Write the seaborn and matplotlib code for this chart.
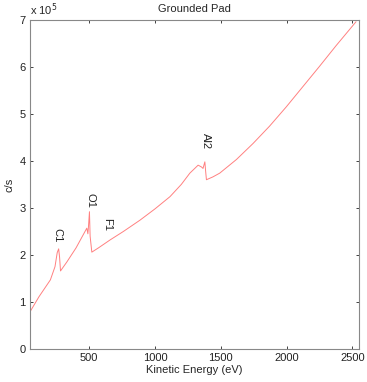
import numpy as np
import pandas as pd
import matplotlib
matplotlib.use("Agg")
import matplotlib.pyplot as plt
import seaborn as sns

energy = [50, 118, 205, 240, 257, 268, 275, 282, 330, 400, 482, 490, 495, 502,
          507, 520, 570, 659, 760, 886, 1000, 1114, 1200, 1265, 1328, 1354,
          1365, 1379, 1386, 1391, 1440, 1492, 1619, 1745, 1871, 1998, 2124,
          2250, 2376, 2528]
counts = [0.79, 1.11, 1.47, 1.75, 2.05, 2.13, 1.95, 1.66, 1.85, 2.15, 2.57, 2.45,
          2.62, 2.92, 2.40, 2.06, 2.15, 2.32, 2.50, 2.74, 2.98, 3.24, 3.50,
          3.74, 3.91, 3.87, 3.84, 3.98, 3.75, 3.60, 3.66, 3.74, 4.03, 4.37,
          4.74, 5.15, 5.58, 6.01, 6.45, 6.96]

peak_names = ["C1", "O1", "F1", "Al2"]
peak_x = [258, 508, 637, 1384]
peak_y = [2.43, 3.17, 2.64, 4.43]

df = pd.DataFrame({"E": energy, "cps": np.array(counts) * 1e5})

sns.set_style("ticks")
plt.rcParams['font.family'] = ['Liberation Sans', 'DejaVu Sans']
plt.rcParams['font.size'] = 8

fig = plt.figure(figsize=(3.67, 3.82), dpi=100)
ax = fig.add_axes([0.0817, 0.0864, 0.8963, 0.8616])

sns.lineplot(data=df, x="E", y="cps", ax=ax, color="#ff8080", linewidth=0.7)

for name, x, y in zip(peak_names, peak_x, peak_y):
    ax.text(x, y * 1e5, name, rotation=270, ha="center", va="center",
            fontsize=8, color="#222222")

ax.set_xlim(50, 2550)
ax.set_ylim(0, 7e5)
ax.set_xticks([500, 1000, 1500, 2000, 2500])
ax.set_yticks(np.arange(0, 8) * 1e5)
ax.set_yticklabels([str(i) for i in range(8)])
ax.tick_params(direction="in", length=2, width=0.6, top=True, right=True,
               labelsize=8, colors="#222222", pad=3)
for s in ax.spines.values():
    s.set_color("#888888")
    s.set_linewidth(0.8)

ax.set_xlabel("Kinetic Energy (eV)", fontsize=8, labelpad=1)
ax.set_ylabel("c/s", fontsize=8, labelpad=4)
ax.set_title("Grounded Pad", fontsize=8, pad=6)
ax.text(0.0, 1.005, r"x 10$^5$", transform=ax.transAxes, fontsize=8,
        ha="left", va="bottom")

fig.savefig("out.png", dpi=100, facecolor="white")
